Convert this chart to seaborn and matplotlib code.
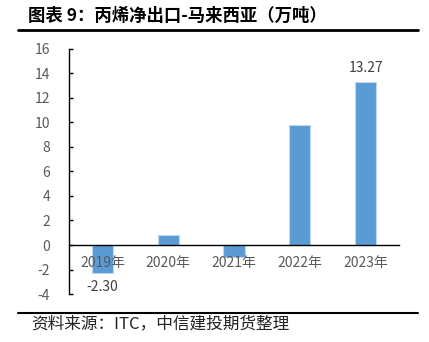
import matplotlib
matplotlib.use("Agg")
import matplotlib.pyplot as plt
import seaborn as sns
import pandas as pd

years = ["2019年", "2020年", "2021年", "2022年", "2023年"]
net_export = [-2.30, 0.80, -1.00, 9.80, 13.27]
labelled = {0: "-2.30", 4: "13.27"}
y_ticks = [-4, -2, 0, 2, 4, 6, 8, 10, 12, 14, 16]

title = "图表 9：丙烯净出口-马来西亚（万吨）"
source = "资料来源：ITC，中信建投期货整理"

sns.set_theme(style="white")
plt.rcParams["font.family"] = ["Noto Sans CJK SC", "DejaVu Sans"]

df = pd.DataFrame({"year": years, "value": net_export})

fig = plt.figure(figsize=(4.29, 3.42), dpi=100)
ax = fig.add_axes([0.162, 0.140, 0.767, 0.718])

sns.barplot(data=df, x="year", y="value", color="#5B9BD5", width=0.32,
            saturation=1, edgecolor="#BDD7EE", linewidth=0.8, ax=ax)

ax.set_axisbelow(False)
ax.set_xlim(-0.5, 4.5)
ax.set_ylim(-4, 16)
ax.set_yticks(y_ticks)
ax.set_yticklabels([str(t) for t in y_ticks])
ax.set_xlabel("")
ax.set_ylabel("")

for s in ("top", "right"):
    ax.spines[s].set_visible(False)
ax.spines["left"].set_color("black")
ax.spines["left"].set_linewidth(1.0)
ax.spines["bottom"].set_position(("data", 0))
ax.spines["bottom"].set_color("black")
ax.spines["bottom"].set_linewidth(1.0)

ax.tick_params(axis="y", direction="in", length=3, width=1, color="black",
               labelsize=10, labelcolor="#595959", pad=14, left=True)
ax.tick_params(axis="x", length=0, labelsize=10, labelcolor="#595959", pad=8)

for i, txt in labelled.items():
    v = net_export[i]
    off = 10 if v >= 0 else -10
    ax.annotate(txt, (i, v), xytext=(0, off), textcoords="offset points",
                ha="center", va="center", fontsize=10, color="#404040")

fig.text(0.065, 0.955, title, fontsize=12.5, fontweight="bold", color="black",
         ha="left", va="center")
fig.add_artist(plt.Line2D([0.042, 0.975], [0.912, 0.912], color="black",
                          linewidth=2.0, transform=fig.transFigure))
fig.add_artist(plt.Line2D([0.042, 0.975], [0.085, 0.085], color="black",
                          linewidth=1.5, transform=fig.transFigure))
fig.text(0.072, 0.052, source, fontsize=12, color="#222222",
         ha="left", va="center", style="italic")

fig.savefig("out.png", dpi=100)
